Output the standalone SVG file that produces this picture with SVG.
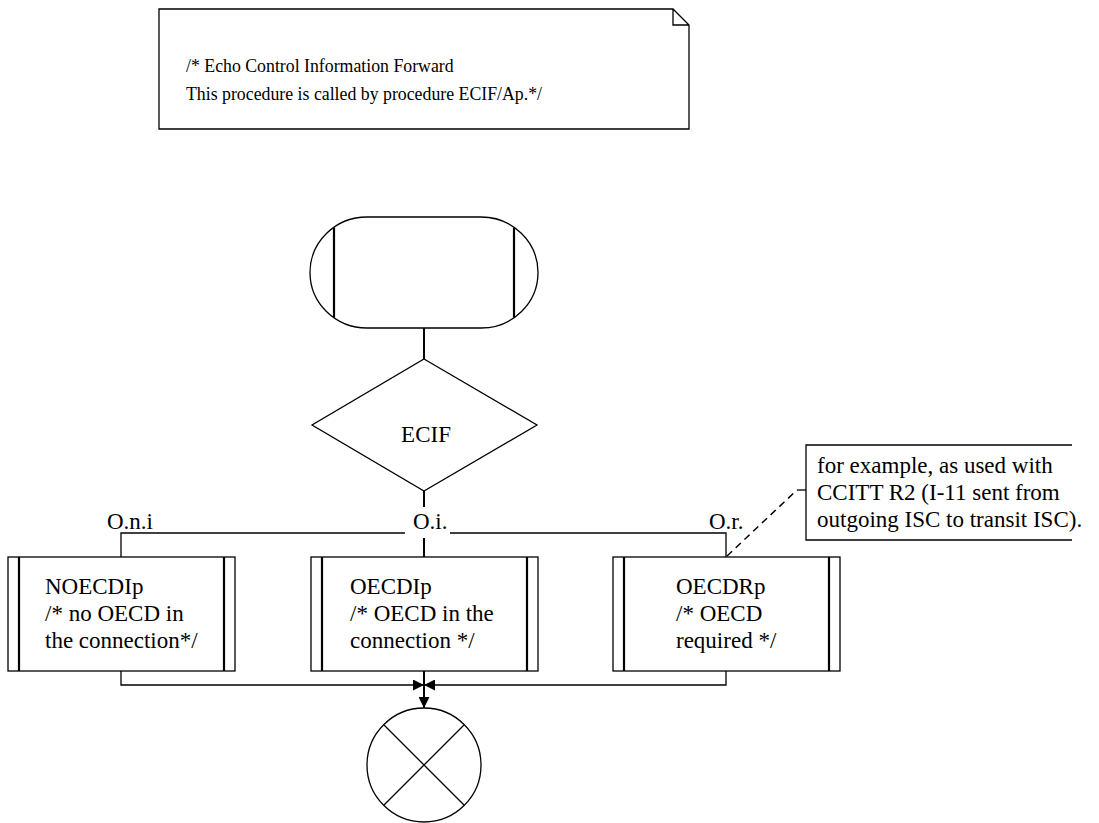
<svg xmlns="http://www.w3.org/2000/svg" width="1099" height="823" viewBox="0 0 1099 823">
<style>
.s{fill:none;stroke:#000;stroke-width:1.3}
.t{fill:none;stroke:#000;stroke-width:2.2}
.c{fill:none;stroke:#000;stroke-width:1.3}
.v{fill:none;stroke:#000;stroke-width:2}
.d{fill:none;stroke:#000;stroke-width:1.5;stroke-dasharray:7,5}
text{font-family:"Liberation Serif","Times New Roman",serif;font-size:23px;fill:#000}
.n{font-size:17.8px}
</style>
<defs>
<marker id="ah" viewBox="0 0 10 10" refX="10" refY="5" markerWidth="13" markerHeight="11" markerUnits="userSpaceOnUse" orient="auto"><path d="M0,0 L10,5 L0,10 z" fill="#000"/></marker>
</defs>
<rect width="1099" height="823" fill="#fff"/>
<g id="note">
<path class="s" d="M159,9 H673 L689,25 V129 H159 Z M673,9 V25 H689"/>
<text class="n" x="186" y="72">/* Echo Control Information Forward</text>
<text class="n" x="186" y="100">This procedure is called by procedure ECIF/Ap.*/</text>
</g>
<g id="start">
<rect class="s" x="310" y="217" width="228" height="111" rx="57" ry="55.5"/>
<line class="t" x1="334" y1="227.5" x2="334" y2="317.5"/>
<line class="t" x1="514" y1="227.5" x2="514" y2="317.5"/>
</g>
<g id="decision">
<polygon class="s" points="424,359 537,425 424,491 312,425"/>
<text x="426" y="442" text-anchor="middle">ECIF</text>
</g>
<g id="labels">
<text x="107" y="529">O.n.i</text>
<text x="413" y="529">O.i.</text>
<text x="709" y="529">O.r.</text>
</g>
<g id="NOECDIp">
<rect class="s" x="8" y="557" width="227" height="114"/>
<line class="t" x1="19" y1="557" x2="19" y2="671"/>
<line class="t" x1="224" y1="557" x2="224" y2="671"/>
<text x="45" y="594">NOECDIp</text>
<text x="45" y="621">/* no OECD in</text>
<text x="45" y="648">the connection*/</text>
</g>
<g id="OECDIp">
<rect class="s" x="311" y="557" width="227" height="114"/>
<line class="t" x1="322" y1="557" x2="322" y2="671"/>
<line class="t" x1="527" y1="557" x2="527" y2="671"/>
<text x="350" y="594">OECDIp</text>
<text x="350" y="621">/* OECD in the</text>
<text x="350" y="648">connection */</text>
</g>
<g id="OECDRp">
<rect class="s" x="613" y="557" width="227" height="114"/>
<line class="t" x1="624" y1="557" x2="624" y2="671"/>
<line class="t" x1="829" y1="557" x2="829" y2="671"/>
<text x="676" y="594">OECDRp</text>
<text x="676" y="621">/* OECD</text>
<text x="676" y="648">required */</text>
</g>
<g id="comment">
<path class="s" d="M1072,445 H806 V540 H1072"/>
<text x="817" y="473">for example, as used with</text>
<text x="817" y="500">CCITT R2 (I-11 sent from</text>
<text x="817" y="527">outgoing ISC to transit ISC).</text>
</g>
<g id="end">
<circle class="s" cx="424" cy="765" r="57"/>
<line class="s" x1="384" y1="725" x2="464" y2="805"/>
<line class="s" x1="464" y1="725" x2="384" y2="805"/>
</g>
<g id="connectors">
<line class="v" x1="424" y1="328" x2="424" y2="359"/>
<line class="v" x1="424" y1="491" x2="424" y2="507"/>
<line class="v" x1="424" y1="538" x2="424" y2="557"/>
<path class="c" d="M121,557 V533 H405"/>
<path class="c" d="M450,533 H726 V557"/>
<path class="c" d="M121,671 V685 H424" marker-end="url(#ah)"/>
<path class="c" d="M726,671 V685 H424" marker-end="url(#ah)"/>
<path class="v" d="M424,671 V708" marker-end="url(#ah)"/>
<path class="d" d="M727,556 L797,490"/>
<path class="c" d="M797,490 H806"/>
</g>
</svg>
